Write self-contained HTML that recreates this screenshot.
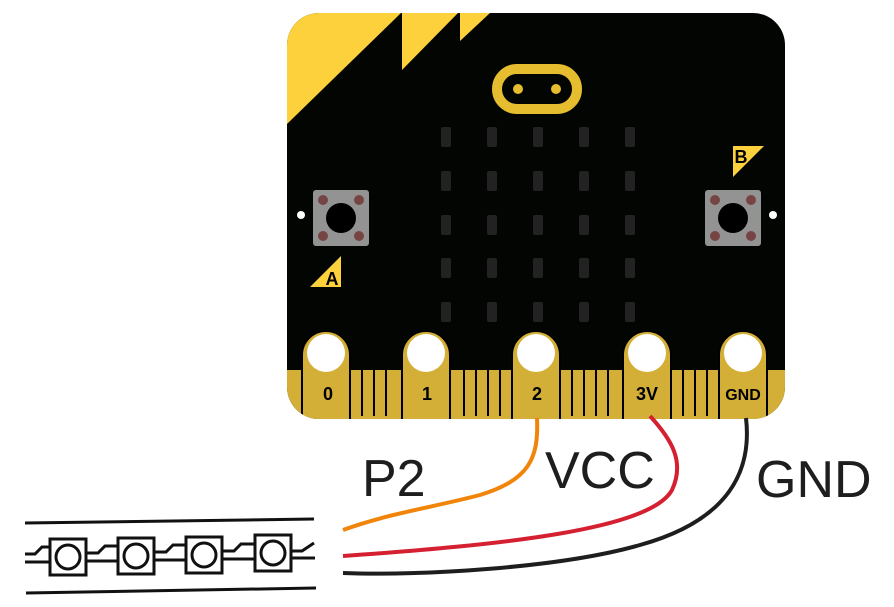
<!DOCTYPE html>
<html><head><meta charset="utf-8"><style>
html,body{margin:0;padding:0;background:#fff;}
svg{display:block;}
</style></head><body>
<svg width="894" height="607" viewBox="0 0 894 607" xmlns="http://www.w3.org/2000/svg">
<rect x="287" y="13" width="498" height="406" rx="32" fill="#030503"/>
<clipPath id="bc"><rect x="287" y="13" width="498" height="406" rx="32"/></clipPath>
<g clip-path="url(#bc)">
<polygon points="287,13 401,13 287,124" fill="#fcd13c"/>
<polygon points="402,13 458,13 402,70" fill="#fcd13c"/>
<polygon points="460,13 490,13 460,41" fill="#fcd13c"/>
<rect x="287" y="370" width="498" height="50" fill="#d4af37"/>
<g stroke="#000" stroke-width="2">
<line x1="362" y1="370" x2="362" y2="416"/><line x1="374" y1="370" x2="374" y2="416"/><line x1="386" y1="370" x2="386" y2="416"/>
<line x1="464" y1="370" x2="464" y2="416"/><line x1="476" y1="370" x2="476" y2="416"/><line x1="488" y1="370" x2="488" y2="416"/><line x1="500" y1="370" x2="500" y2="416"/>
<line x1="572" y1="370" x2="572" y2="416"/><line x1="584" y1="370" x2="584" y2="416"/><line x1="596" y1="370" x2="596" y2="416"/><line x1="608" y1="370" x2="608" y2="416"/>
<line x1="683" y1="370" x2="683" y2="416"/><line x1="695" y1="370" x2="695" y2="416"/><line x1="707" y1="370" x2="707" y2="416"/>
</g>
<g fill="#d4af37" stroke="#000" stroke-width="2">
<path d="M302,419 V355 a24,24 0 0 1 48,0 V419"/>
<path d="M402,419 V355 a24,24 0 0 1 48,0 V419"/>
<path d="M512,419 V355 a24,24 0 0 1 48,0 V419"/>
<path d="M623,419 V355 a24,24 0 0 1 48,0 V419"/>
<path d="M719,419 V355 a24,24 0 0 1 48,0 V419"/>
</g>
</g>
<g fill="#fff">
<circle cx="326" cy="353" r="19"/><circle cx="426" cy="353" r="19"/><circle cx="536" cy="353" r="19"/><circle cx="647" cy="353" r="19"/><circle cx="743" cy="353" r="19"/>
<circle cx="301" cy="215" r="4"/><circle cx="773" cy="215" r="4"/>
</g>
<g font-family="Liberation Sans, sans-serif" font-weight="bold" font-size="18" text-anchor="middle" fill="#000">
<text x="328" y="400">0</text><text x="427" y="400">1</text><text x="537" y="400">2</text><text x="647" y="400">3V</text><text x="743" y="400" font-size="16">GND</text>
</g>
<rect x="497" y="69" width="80" height="40" rx="20" fill="none" stroke="#e6bd2e" stroke-width="10"/>
<circle cx="518" cy="89" r="5" fill="#e6bd2e"/><circle cx="556" cy="89" r="5" fill="#e6bd2e"/>
<g fill="#222">
<rect x="441" y="127" width="10" height="20" rx="2"/><rect x="487" y="127" width="10" height="20" rx="2"/><rect x="533" y="127" width="10" height="20" rx="2"/><rect x="579" y="127" width="10" height="20" rx="2"/><rect x="625" y="127" width="10" height="20" rx="2"/>
<rect x="441" y="171" width="10" height="20" rx="2"/><rect x="487" y="171" width="10" height="20" rx="2"/><rect x="533" y="171" width="10" height="20" rx="2"/><rect x="579" y="171" width="10" height="20" rx="2"/><rect x="625" y="171" width="10" height="20" rx="2"/>
<rect x="441" y="215" width="10" height="20" rx="2"/><rect x="487" y="215" width="10" height="20" rx="2"/><rect x="533" y="215" width="10" height="20" rx="2"/><rect x="579" y="215" width="10" height="20" rx="2"/><rect x="625" y="215" width="10" height="20" rx="2"/>
<rect x="441" y="258" width="10" height="20" rx="2"/><rect x="487" y="258" width="10" height="20" rx="2"/><rect x="533" y="258" width="10" height="20" rx="2"/><rect x="579" y="258" width="10" height="20" rx="2"/><rect x="625" y="258" width="10" height="20" rx="2"/>
<rect x="441" y="302" width="10" height="20" rx="2"/><rect x="487" y="302" width="10" height="20" rx="2"/><rect x="533" y="302" width="10" height="20" rx="2"/><rect x="579" y="302" width="10" height="20" rx="2"/><rect x="625" y="302" width="10" height="20" rx="2"/>
</g>
<rect x="313" y="190" width="56" height="56" rx="3" fill="#939393"/>
<circle cx="341" cy="218" r="15" fill="#000"/>
<g fill="#744"><circle cx="323" cy="200" r="5"/><circle cx="359" cy="200" r="5"/><circle cx="323" cy="236" r="5"/><circle cx="359" cy="236" r="5"/></g>
<rect x="705" y="190" width="56" height="56" rx="3" fill="#939393"/>
<circle cx="733" cy="218" r="15" fill="#000"/>
<g fill="#744"><circle cx="715" cy="200" r="5"/><circle cx="751" cy="200" r="5"/><circle cx="715" cy="236" r="5"/><circle cx="751" cy="236" r="5"/></g>
<polygon points="310,287 341,287 341,256" fill="#fcd13c"/>
<polygon points="733,146 764,146 733,177" fill="#fcd13c"/>
<text x="332" y="285" font-family="Liberation Sans, sans-serif" font-weight="bold" font-size="18" text-anchor="middle">A</text>
<text x="741" y="163" font-family="Liberation Sans, sans-serif" font-weight="bold" font-size="18" text-anchor="middle">B</text>
<g fill="none" stroke-width="4">
<path d="M537,418 C539,460 528,480 480,495 C430,508 390,513 343,530" stroke="#f0850a"/>
<path d="M650,416 C672,440 685,462 672,490 C650,530 500,545 343,556" stroke="#d42030"/>
<path d="M746,418 C752,470 730,520 640,545 C560,568 420,576 343,573" stroke="#1e1e1e"/>
</g>
<g font-family="Liberation Sans, sans-serif" font-size="52" fill="#1e1e1e">
<text x="362" y="496">P2</text><text x="545" y="488">VCC</text><text x="756" y="497">GND</text>
</g>
<g stroke="#111" stroke-width="3" fill="none">
<line x1="25" y1="523" x2="314" y2="519"/>
<line x1="26" y1="593" x2="316" y2="588"/>
<path d="M25,554 L35,554 L42,547 L50,547"/>
<line x1="25" y1="562" x2="50" y2="562"/>
<path d="M86,553 L98,553 L105,546 L118,546"/><line x1="86" y1="561" x2="118" y2="561"/>
<path d="M154,552 L166,552 L173,545 L186,545"/><line x1="154" y1="560" x2="186" y2="560"/>
<path d="M222,551 L234,551 L241,544 L255,544"/><line x1="222" y1="559" x2="255" y2="559"/>
<path d="M290,551 L302,551 L314,543"/><line x1="290" y1="558" x2="315" y2="558"/>
<rect x="50" y="539" width="36" height="36"/><circle cx="68" cy="557" r="12"/>
<rect x="118" y="538" width="36" height="36"/><circle cx="136" cy="556" r="12"/>
<rect x="186" y="537" width="36" height="36"/><circle cx="204" cy="555" r="12"/>
<rect x="255" y="535" width="36" height="36"/><circle cx="273" cy="553" r="12"/>
</g>
</svg>
</body></html>
